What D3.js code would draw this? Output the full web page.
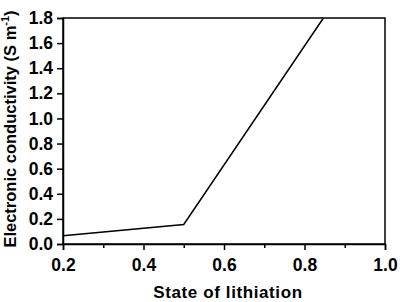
<!DOCTYPE html>
<html>
<head>
<meta charset="utf-8">
<script src="https://cdn.jsdelivr.net/npm/d3@7"></script>
<style>
  body { margin: 0; background: #fff; }
  text { font-family: "Liberation Sans", Arial, sans-serif; font-weight: bold; }
</style>
</head>
<body>
<script>
// data
var lithiation = [0.2, 0.5, 0.847];
var conductivity = [0.065, 0.155, 1.8];
var xTicks = [0.2, 0.4, 0.6, 0.8, 1.0];
var xMinor = [0.3, 0.5, 0.7, 0.9];
var yTicks = [0, 0.2, 0.4, 0.6, 0.8, 1.0, 1.2, 1.4, 1.6, 1.8];

var svg_width = 400, svg_height = 302;
var plotLeft = 63, plotRight = 385, plotTop = 18, plotBottom = 244;

var svg = d3.select('body').append('svg')
  .attr('width', svg_width)
  .attr('height', svg_height);

var x = d3.scaleLinear().domain([0.2, 1.0]).range([plotLeft, plotRight]);
var y = d3.scaleLinear().domain([0, 1.8]).range([plotBottom, plotTop]);

// frame
svg.append('rect')
  .attr('x', plotLeft).attr('y', plotTop)
  .attr('width', plotRight - plotLeft).attr('height', plotBottom - plotTop)
  .attr('fill', 'none').attr('stroke', '#000').attr('stroke-width', 1.5);

// x axis
svg.append('g')
  .attr('class', 'xaxis')
  .attr('transform', 'translate(0,' + plotBottom + ')')
  .call(d3.axisBottom(x).tickValues(xTicks).tickFormat(d3.format('.1f')).tickSizeOuter(0).tickSize(6).tickPadding(9));
svg.append('g')
  .attr('transform', 'translate(0,' + plotBottom + ')')
  .call(d3.axisBottom(x).tickValues(xMinor).tickFormat('').tickSizeOuter(0).tickSize(4))
  .select('.domain').remove();

// y axis
svg.append('g')
  .attr('transform', 'translate(' + plotLeft + ',0)')
  .call(d3.axisLeft(y).tickValues(yTicks).tickFormat(d3.format('.1f')).tickSizeOuter(0).tickSize(6).tickPadding(4));

svg.selectAll('.domain').attr('stroke-width', 1.5);
svg.selectAll('.tick line').attr('stroke-width', 1.5);
svg.selectAll('.tick text')
  .attr('font-size', 17.5)
  .attr('font-family', '"Liberation Sans", Arial, sans-serif')
  .attr('font-weight', 'bold')
  .attr('fill', '#000');

// line
var line = d3.line()
  .x(function(d, i) { return x(lithiation[i]); })
  .y(function(d) { return y(d); });

svg.append('path')
  .datum(conductivity)
  .attr('d', line)
  .attr('fill', 'none')
  .attr('stroke', '#000')
  .attr('stroke-width', 1.5);

// axis titles
svg.append('text')
  .attr('x', 228)
  .attr('y', 298)
  .attr('text-anchor', 'middle')
  .attr('font-size', 17)
  .attr('letter-spacing', 0.6)
  .text('State of lithiation');

var yTitle = svg.append('text')
  .attr('transform', 'translate(16,' + 129 + ') rotate(-90)')
  .attr('text-anchor', 'middle')
  .attr('font-size', 16.5);
yTitle.append('tspan').text('Electronic conductivity (S m');
yTitle.append('tspan').attr('font-size', 11).attr('dy', -7).text('-1');
yTitle.append('tspan').attr('dy', 7).text(')');
</script>
</body>
</html>
